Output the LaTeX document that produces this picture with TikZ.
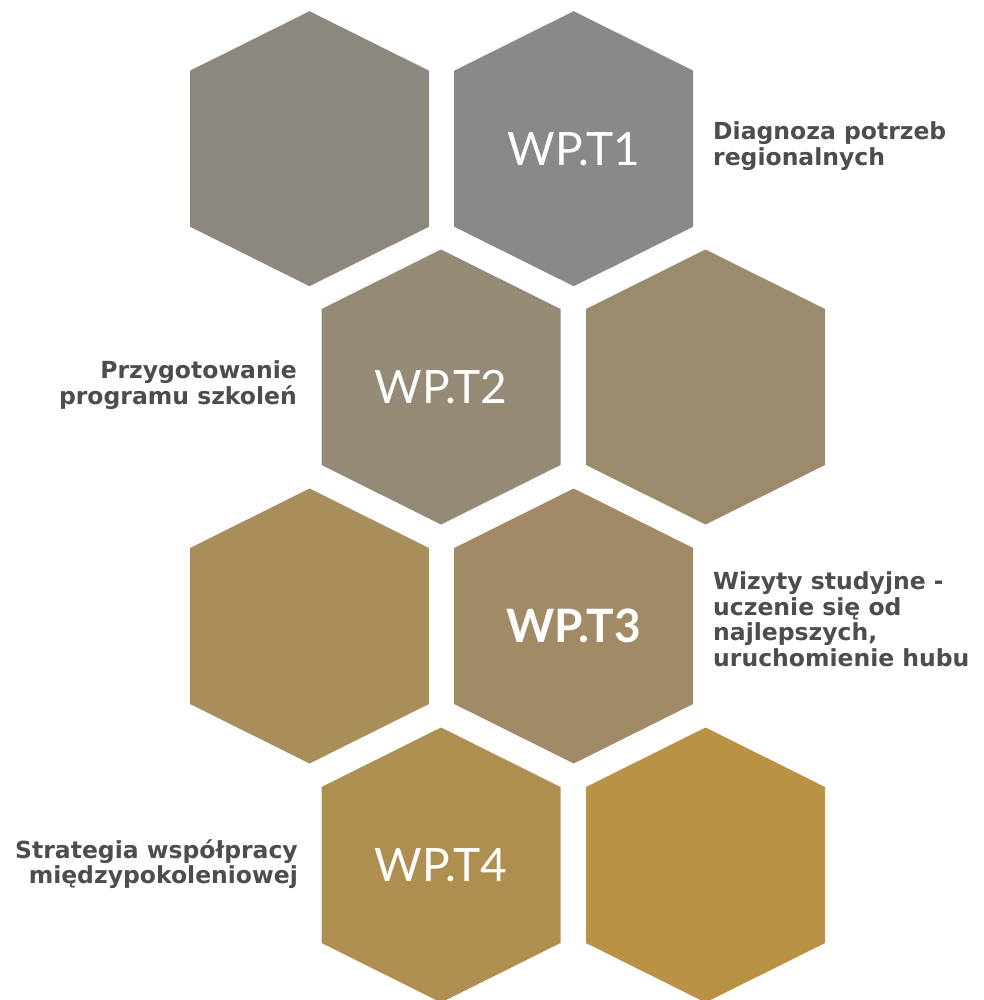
\documentclass[tikz,border=0pt]{standalone}
\usepackage{fontspec}
\setmainfont{DejaVu Sans}
\newfontfamily\hexfont{Lato}
\definecolor{hexA}{HTML}{8C8880}
\definecolor{hexB}{HTML}{898989}
\definecolor{hexC}{HTML}{948A76}
\definecolor{hexD}{HTML}{9A8B6F}
\definecolor{hexE}{HTML}{A88E5B}
\definecolor{hexF}{HTML}{A18B67}
\definecolor{hexG}{HTML}{AF8F50}
\definecolor{hexH}{HTML}{B99246}
\definecolor{labelgray}{HTML}{4D4D4D}
\begin{document}
\begin{tikzpicture}[x=1pt, y=-1pt,
  wp/.style = {text=white, inner sep=0pt, font=\hexfont\fontsize{46}{46}\selectfont},
  task/.style = {text=labelgray, inner sep=0pt, font=\bfseries\fontsize{23.5}{25.5}\selectfont}]

	\useasboundingbox (0,0) rectangle (983,1000);

	% honeycomb
	\foreach \name/\cx/\cy/\col in {a/309.5/148.7/hexA, b/573.7/148.7/hexB,
		c/441/387/hexC, d/705.5/387/hexD,
		e/309.5/626/hexE, f/573.7/626/hexF,
		g/441/865/hexG, h/705.5/865/hexH} {
		\fill[\col] (\cx,\cy) ++(0,-137.5) -- ++(119.5,59.5) -- ++(0,156)
			-- ++(-119.5,59.5) -- ++(-119.5,-59.5) -- ++(0,-156) -- cycle;
		\coordinate (\name) at (\cx,\cy);
	}

	\node[wp] (t1) at (b) {WP.T1};
	\node[wp] (t2) at (c) {WP.T2};
	\node[wp, font=\hexfont\bfseries\fontsize{46}{46}\selectfont] (t3) at (f) {WP.T3};
	\node[wp] (t4) at (g) {WP.T4};

	\node[task, anchor=west, align=left] (l1) at (713,146) {Diagnoza potrzeb\\regionalnych};
	\node[task, anchor=east, align=right] (l2) at (297,385) {Przygotowanie\\programu szkoleń};
	\node[task, anchor=west, align=left] (l3) at (713,619) {Wizyty studyjne -\\uczenie się od\\najlepszych,\\uruchomienie hubu};
	\node[task, anchor=east, align=right] (l4) at (298,864) {Strategia współpracy\\międzypokoleniowej};
\end{tikzpicture}
\end{document}
